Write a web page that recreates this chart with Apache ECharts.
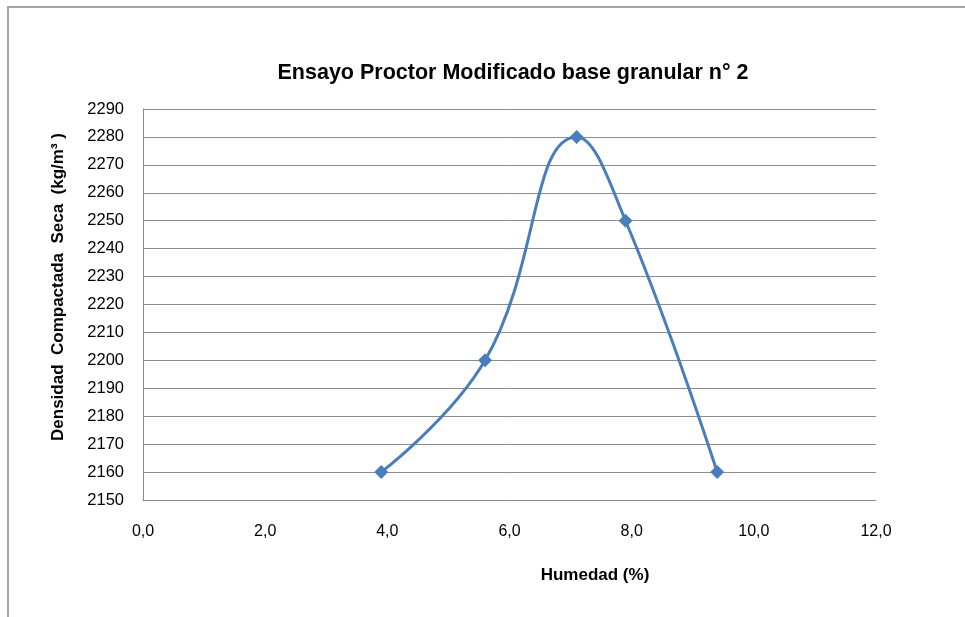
<!DOCTYPE html>
<html>
<head>
<meta charset="utf-8">
<script src="https://cdn.jsdelivr.net/npm/echarts@6/dist/echarts.min.js"></script>
<style>
html,body{margin:0;padding:0;background:#fff;}
#chart{width:965px;height:617px;}
</style>
</head>
<body>
<div id="chart"></div>
<script>
const titleText = 'Ensayo Proctor Modificado base granular n° 2';
const xName = 'Humedad (%)';
const yName = 'Densidad  Compactada  Seca  (kg/m³ )';
const humedad = [3.9, 5.6, 7.1, 7.9, 9.4];
const densidad = [2160, 2200, 2280, 2250, 2160];
const xMin = 0, xMax = 12, xStep = 2;
const yMin = 2150, yMax = 2290, yStep = 10;

const chart = echarts.init(document.getElementById('chart'), null, {renderer: 'canvas'});
const font = 'Liberation Sans, Arial, sans-serif';
const gridColor = '#8c8c8c';
const lineColor = '#4a7ebb';

chart.setOption({
  backgroundColor: '#ffffff',
  animation: false,
  title: {
    text: titleText,
    left: 508, top: 57, textAlign: 'center',
    textStyle: {fontFamily: font, fontSize: 21.5, fontWeight: 'bold', color: '#000'}
  },
  grid: {left: 143, right: 89, top: 109, bottom: 117, containLabel: false},
  xAxis: {
    type: 'value', min: xMin, max: xMax, interval: xStep,
    axisLine: {show: true, lineStyle: {color: gridColor, width: 1}},
    axisTick: {show: false},
    splitLine: {show: false},
    axisLabel: {
      margin: 24, fontFamily: font, fontSize: 16, color: '#000',
      formatter: v => v.toFixed(1).replace('.', ',')
    }
  },
  yAxis: {
    type: 'value', min: yMin, max: yMax, interval: yStep,
    axisLine: {show: true, lineStyle: {color: gridColor, width: 1}},
    axisTick: {show: false},
    splitLine: {show: true, lineStyle: {color: gridColor, width: 1}},
    axisLabel: {margin: 19, fontFamily: font, fontSize: 16.5, color: '#000',
      formatter: v => String(v)}
  },
  graphic: [
    {type: 'rect', shape: {x: 8, y: 7, width: 1000, height: 700},
     style: {fill: null, stroke: '#a6a6a6', lineWidth: 2}, silent: true, z: -1},
    {type: 'text', x: 595, y: 575,
     style: {text: xName, fontFamily: font, fontSize: 17, fontWeight: 'bold', fill: '#000',
             textAlign: 'center', textVerticalAlign: 'middle'}},
    {type: 'text', x: 58, y: 287, rotation: Math.PI / 2,
     style: {text: yName, fontFamily: font, fontSize: 17, fontWeight: 'bold', fill: '#000',
             textAlign: 'center', textVerticalAlign: 'middle'}}
  ],
  series: [{
    type: 'line',
    data: humedad.map((x, i) => [x, densidad[i]]),
    smooth: 0.45,
    symbol: 'diamond',
    symbolSize: 14,
    lineStyle: {color: lineColor, width: 3},
    itemStyle: {color: lineColor},
    z: 3
  }]
});
</script>
</body>
</html>
